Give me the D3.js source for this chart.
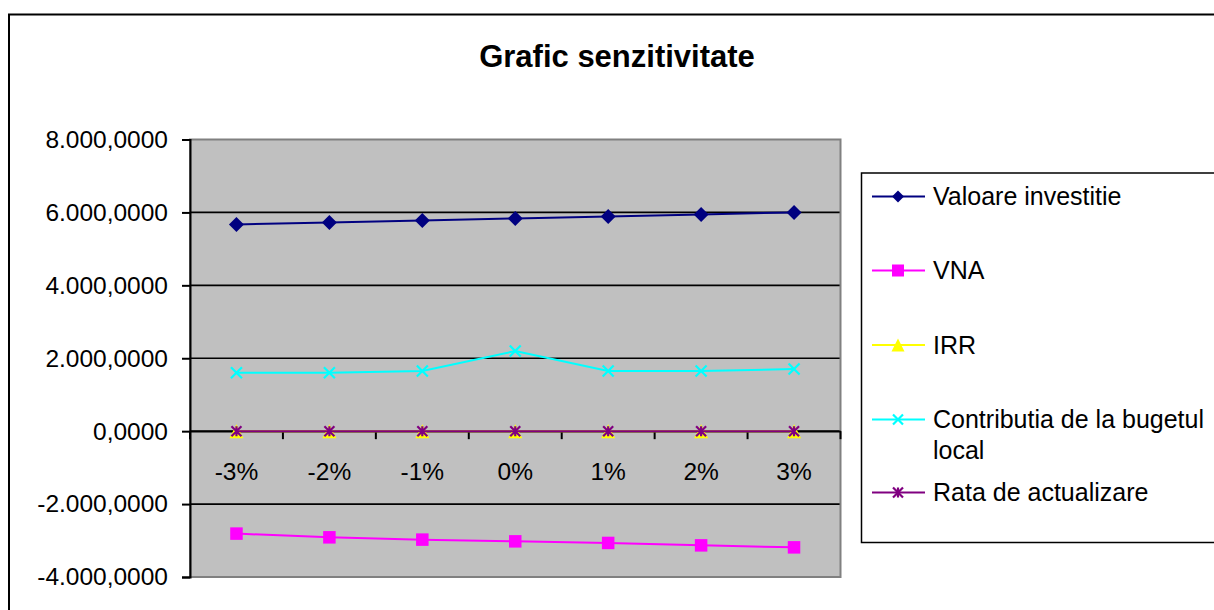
<!DOCTYPE html>
<html>
<head>
<meta charset="utf-8">
<script src="https://cdn.jsdelivr.net/npm/d3@7"></script>
<style>
  html, body { margin: 0; padding: 0; background: #fff; }
  svg { display: block; }
  text { font-family: "Liberation Sans", Arial, sans-serif; fill: #000; }
</style>
</head>
<body>
<svg id="chart" width="1214" height="610"></svg>
<script>
const categories = ["-3%", "-2%", "-1%", "0%", "1%", "2%", "3%"];
const valoareInvestitie = [5670, 5725, 5780, 5835, 5890, 5945, 6000];
const vna = [-2810, -2912, -2975, -3022, -3066, -3132, -3187];
const irr = [0.12, 0.12, 0.12, 0.12, 0.12, 0.12, 0.12];
const contributia = [1604, 1604, 1648, 2198, 1648, 1648, 1703];
const rataActualizare = [0.08, 0.08, 0.08, 0.08, 0.08, 0.08, 0.08];
const yTicks = [-4000, -2000, 0, 2000, 4000, 6000, 8000];
const seriesNames = ["Valoare investitie", "VNA", "IRR", "Contributia de la bugetul local", "Rata de actualizare"];

const series = [
  { name: seriesNames[0], values: valoareInvestitie, color: "#000080", marker: "diamond" },
  { name: seriesNames[1], values: vna, color: "#ff00ff", marker: "square" },
  { name: seriesNames[2], values: irr, color: "#ffff00", marker: "triangle" },
  { name: seriesNames[3], values: contributia, color: "#00ffff", marker: "x" },
  { name: seriesNames[4], values: rataActualizare, color: "#800080", marker: "star" }
];

const svg = d3.select("#chart");
const plot = { left: 190, right: 840.5, top: 139.5, bottom: 577 };

// outer chart border
svg.append("rect").attr("x", 9).attr("y", 14.5).attr("width", 1240).attr("height", 640)
  .attr("fill", "#fff").attr("stroke", "#000").attr("stroke-width", 2);

// title
svg.append("text").attr("x", 617).attr("y", 67).attr("text-anchor", "middle")
  .style("font-size", "31px").style("font-weight", "bold").text("Grafic senzitivitate");

const x = d3.scaleBand().domain(categories).range([plot.left, plot.right]).padding(0);
const y = d3.scaleLinear().domain([-4000, 8000]).range([plot.bottom, plot.top]);

// plot area
svg.append("rect").attr("x", plot.left).attr("y", plot.top)
  .attr("width", plot.right - plot.left).attr("height", plot.bottom - plot.top)
  .attr("fill", "#c0c0c0");

// gridlines
svg.append("g").selectAll("line").data(yTicks.filter(d => d > -4000 && d < 8000)).join("line")
  .attr("x1", plot.left).attr("x2", plot.right)
  .attr("y1", d => y(d)).attr("y2", d => y(d))
  .attr("stroke", "#000").attr("stroke-width", 1.6);

// plot border (gray)
svg.append("rect").attr("x", plot.left).attr("y", plot.top)
  .attr("width", plot.right - plot.left).attr("height", plot.bottom - plot.top)
  .attr("fill", "none").attr("stroke", "#808080").attr("stroke-width", 2);

// y axis
const locale = d3.formatLocale({ decimal: ",", thousands: ".", grouping: [3], currency: ["", ""], minus: "-" });
const fmt = locale.format(",.4f");
const yAxis = svg.append("g").attr("transform", `translate(${plot.left},0)`)
  .call(d3.axisLeft(y).tickValues(yTicks).tickFormat(fmt).tickSize(8).tickPadding(14));
yAxis.select(".domain").attr("stroke", "#000").attr("stroke-width", 2);
yAxis.selectAll(".tick line").attr("stroke", "#000").attr("stroke-width", 2);
yAxis.selectAll(".tick text").style("font-size", "24.5px")
  .style("font-family", '"Liberation Sans", Arial, sans-serif').attr("fill", "#000");

// x axis at zero
const xAxis = svg.append("g").attr("transform", `translate(0,${y(0)})`)
  .call(d3.axisBottom(x).tickSize(0).tickPadding(31));
xAxis.select(".domain").attr("stroke", "#000").attr("stroke-width", 1.6);
xAxis.selectAll(".tick text").style("font-size", "24.5px")
  .style("font-family", '"Liberation Sans", Arial, sans-serif').attr("fill", "#000");
// boundary tick marks
const bounds = categories.map(c => x(c)).concat([x.range()[1]]);
xAxis.append("g").selectAll("line").data(bounds).join("line")
  .attr("x1", d => d).attr("x2", d => d).attr("y1", 0).attr("y2", 8)
  .attr("stroke", "#000").attr("stroke-width", 2);

// marker drawing
function drawMarker(g, type, color, s) {
  const h = s / 2;
  if (type === "diamond") {
    g.append("path").attr("d", `M0,${-h}L${h},0L0,${h}L${-h},0Z`).attr("fill", color);
  } else if (type === "square") {
    g.append("rect").attr("x", -h).attr("y", -h).attr("width", s).attr("height", s)
      .attr("fill", color);
  } else if (type === "triangle") {
    g.append("path").attr("d", `M0,${-h}L${h},${h}L${-h},${h}Z`).attr("fill", color);
  } else if (type === "x") {
    g.append("path").attr("d", `M${-h},${-h}L${h},${h}M${-h},${h}L${h},${-h}`)
      .attr("stroke", color).attr("stroke-width", 2.2).attr("fill", "none");
  } else if (type === "star") {
    g.append("path").attr("d", `M${-h},${-h}L${h},${h}M${-h},${h}L${h},${-h}M0,${-h}L0,${h}`)
      .attr("stroke", color).attr("stroke-width", 2.2).attr("fill", "none");
  }
}
const markerSize = { diamond: 15, square: 12.5, triangle: 14, x: 11, star: 10 };

const line = d3.line().x((d, i) => x(categories[i]) + x.bandwidth() / 2).y(d => y(d));

series.forEach(s => {
  const g = svg.append("g");
  g.append("path").datum(s.values).attr("d", line)
    .attr("fill", "none").attr("stroke", s.color).attr("stroke-width", 2);
  s.values.forEach((v, i) => {
    const mg = g.append("g")
      .attr("transform", `translate(${x(categories[i]) + x.bandwidth() / 2},${y(v)})`);
    drawMarker(mg, s.marker, s.color, markerSize[s.marker]);
  });
});

// legend
svg.append("rect").attr("x", 861.5).attr("y", 173).attr("width", 400).attr("height", 369.5)
  .attr("fill", "#fff").attr("stroke", "#000").attr("stroke-width", 1.5);
const legendRows = [
  { lines: ["Valoare investitie"], y: 196.5 },
  { lines: ["VNA"], y: 270.5 },
  { lines: ["IRR"], y: 345 },
  { lines: ["Contributia de la bugetul", "local"], y: 419.5 },
  { lines: ["Rata de actualizare"], y: 492.5 }
];
const legendMarkerSize = { diamond: 12, square: 12, triangle: 13, x: 10, star: 10 };
series.forEach((s, i) => {
  const r = legendRows[i];
  const g = svg.append("g");
  g.append("line").attr("x1", 872).attr("x2", 925).attr("y1", r.y).attr("y2", r.y)
    .attr("stroke", s.color).attr("stroke-width", 2);
  const mg = g.append("g").attr("transform", `translate(898,${r.y})`);
  drawMarker(mg, s.marker, s.color, legendMarkerSize[s.marker]);
  r.lines.forEach((t, j) => {
    g.append("text").attr("x", 933).attr("y", r.y + j * 31).attr("dy", "0.35em")
      .style("font-size", "25px").text(t);
  });
});
</script>
</body>
</html>
